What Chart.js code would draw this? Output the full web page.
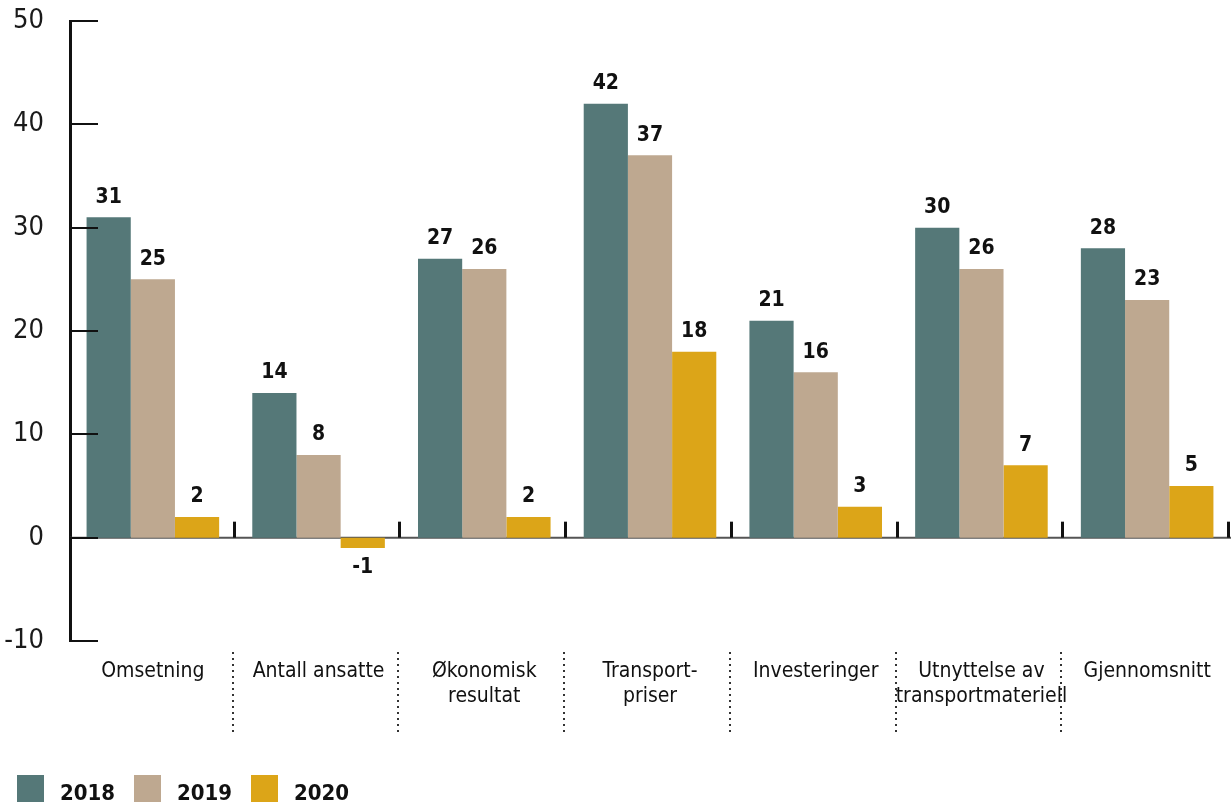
<!DOCTYPE html>
<html>
<head>
<meta charset="utf-8">
<script src="https://cdn.jsdelivr.net/npm/chart.js@4.4.1/dist/chart.umd.min.js"></script>
<style>
  html, body { margin: 0; padding: 0; background: #fff; overflow: hidden; }
  #wrap { position: relative; width: 1231px; height: 802px; }
</style>
</head>
<body>
<div id="wrap"><canvas id="c"></canvas></div>
<script>
// Survey categories (multi-line labels as arrays)
const categories = [
  'Omsetning',
  'Antall ansatte',
  ['Økonomisk', 'resultat'],
  ['Transport-', 'priser'],
  'Investeringer',
  ['Utnyttelse av', 'transportmateriell'],
  'Gjennomsnitt'
];
const seriesNames = ['2018', '2019', '2020'];
const values2018 = [31, 14, 27, 42, 21, 30, 28];
const values2019 = [25, 8, 26, 37, 16, 26, 23];
const values2020 = [2, -1, 2, 18, 3, 7, 5];
const yTicks = [-10, 0, 10, 20, 30, 40, 50];

const colors = ['#557878', '#bea890', '#dca518'];
const FONT = '"Liberation Sans Narrow", "DejaVu Sans Condensed", "Roboto Condensed", "Liberation Sans", sans-serif';

// Axis decorations: inward y ticks, zero line, category ticks, dotted separators
const axisDecor = {
  id: 'axisDecor',
  beforeDatasetsDraw(chart) {
    const { ctx, chartArea, scales: { y } } = chart;
    const y0 = y.getPixelForValue(0);
    ctx.save();
    ctx.strokeStyle = '#555';
    ctx.lineWidth = 2;
    ctx.beginPath();
    ctx.moveTo(chartArea.left, y0);
    ctx.lineTo(chart.width, y0);
    ctx.stroke();
    ctx.restore();
  },
  afterDatasetsDraw(chart) {
    const { ctx, chartArea, scales: { y } } = chart;
    const y0 = y.getPixelForValue(0);
    ctx.save();
    // short ticks pointing into the plot
    ctx.strokeStyle = '#111';
    ctx.lineWidth = 2;
    yTicks.forEach(v => {
      const py = Math.round(y.getPixelForValue(v));
      ctx.beginPath();
      ctx.moveTo(chartArea.left, py);
      ctx.lineTo(chartArea.left + 28, py);
      ctx.stroke();
    });
    // category boundary ticks on the zero line
    const n = categories.length;
    const w = (chartArea.right - chartArea.left) / n;
    ctx.lineWidth = 3;
    for (let i = 1; i <= n; i++) {
      const px = Math.round(chartArea.left + i * w) - 1.5;
      ctx.beginPath();
      ctx.moveTo(px, y0);
      ctx.lineTo(px, y0 - 16);
      ctx.stroke();
    }
    // dotted separators between category labels
    ctx.strokeStyle = '#333';
    ctx.lineWidth = 2;
    ctx.setLineDash([2, 4]);
    for (let i = 1; i < n; i++) {
      const px = Math.round(chartArea.left + i * w) - 3;
      ctx.beginPath();
      ctx.moveTo(px, chartArea.bottom + 11);
      ctx.lineTo(px, chartArea.bottom + 91);
      ctx.stroke();
    }
    ctx.restore();
  }
};

// Value labels above (or below) each bar
const valueLabels = {
  id: 'valueLabels',
  afterDatasetsDraw(chart) {
    const { ctx } = chart;
    ctx.save();
    ctx.font = 'bold 21px ' + FONT;
    ctx.fillStyle = '#111';
    ctx.textAlign = 'center';
    ctx.textBaseline = 'middle';
    chart.data.datasets.forEach((ds, di) => {
      const meta = chart.getDatasetMeta(di);
      meta.data.forEach((bar, i) => {
        const v = ds.data[i];
        const py = v >= 0 ? bar.y - 20 : bar.y + 20;
        ctx.fillText(String(v), bar.x, py);
      });
    });
    ctx.restore();
  }
};

// Legend row at the bottom-left
const bottomLegend = {
  id: 'bottomLegend',
  afterDraw(chart) {
    const { ctx } = chart;
    ctx.save();
    ctx.font = 'bold 22px ' + FONT;
    ctx.textBaseline = 'alphabetic';
    ctx.textAlign = 'left';
    chart.data.datasets.forEach((ds, i) => {
      const x0 = 17 + i * 117;
      ctx.fillStyle = ds.backgroundColor;
      ctx.fillRect(x0, 775, 27, 27);
      ctx.fillStyle = '#111';
      ctx.fillText(ds.label, x0 + 43, 800);
    });
    ctx.restore();
  }
};

new Chart(document.getElementById('c'), {
  type: 'bar',
  data: {
    labels: categories,
    datasets: [
      { label: seriesNames[0], data: values2018, backgroundColor: colors[0] },
      { label: seriesNames[1], data: values2019, backgroundColor: colors[1] },
      { label: seriesNames[2], data: values2020, backgroundColor: colors[2] }
    ]
  },
  options: {
    responsive: true,
    maintainAspectRatio: false,
    animation: false,
    layout: { padding: { top: 21, right: 1, bottom: 0, left: 0 } },
    datasets: { bar: { categoryPercentage: 0.8, barPercentage: 1.0 } },
    plugins: {
      legend: { display: false },
      tooltip: { enabled: false }
    },
    scales: {
      x: {
        grid: { display: false },
        border: { display: false },
        ticks: {
          font: { family: FONT, size: 21, lineHeight: 1.2 },
          color: '#111',
          padding: 10,
          autoSkip: false,
          maxRotation: 0,
          minRotation: 0
        },
        afterFit(scale) { scale.height = 161; }
      },
      y: {
        min: -10,
        max: 50,
        afterBuildTicks(scale) { scale.ticks = yTicks.map(v => ({ value: v })); },
        grid: { display: false },
        border: { display: true, color: '#111', width: 3 },
        ticks: {
          font: { family: FONT, size: 27 },
          color: '#1a1a1a',
          padding: 18
        },
        afterFit(scale) {
          scale.width = 70;
          scale.paddingTop = 0;
          scale.paddingBottom = 0;
        }
      }
    }
  },
  plugins: [axisDecor, valueLabels, bottomLegend]
});
</script>
</body>
</html>
